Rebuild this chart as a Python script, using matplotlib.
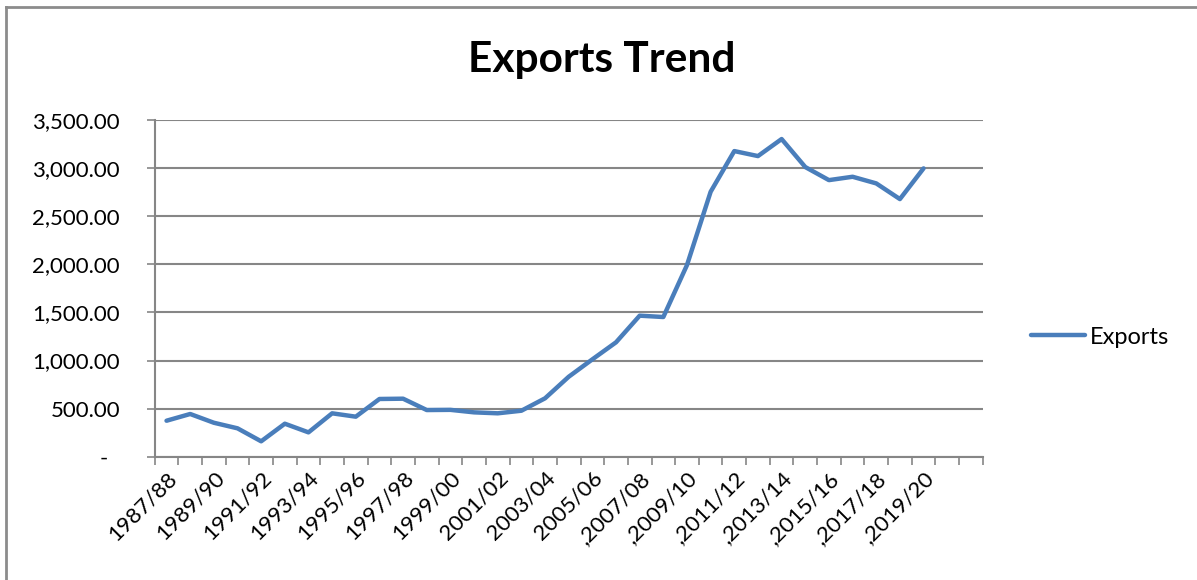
import matplotlib
matplotlib.use("Agg")
import matplotlib.pyplot as plt
import matplotlib.transforms as mtransforms
from matplotlib.lines import Line2D
from matplotlib.ticker import FixedLocator, FuncFormatter

plt.rcParams['font.family'] = ['Lato', 'DejaVu Sans']

# Fiscal years; the last two slots of the category axis are left empty
years = ["1987/88", "1988/89", "1989/90", "1990/91", "1991/92", "1992/93",
         "1993/94", "1994/95", "1995/96", "1996/97", "1997/98", "1998/99",
         "1999/00", "2000/01", "2001/02", "2002/03", "2003/04", "2004/05",
         "2005/06", "2006/07", ",2007/08", ",2008/09", ",2009/10", ",2010/11",
         ",2011/12", ",2012/13", ",2013/14", ",2014/15", ",2015/16",
         ",2016/17", ",2017/18", ",2018/19", ",2019/20", "", ""]

exports = [374, 444, 353, 295, 160, 343, 253, 451, 416, 600, 603, 485, 487,
           461, 451, 478, 607, 831, 1012, 1189, 1466, 1452, 1992, 2754,
           3177, 3125, 3302, 3011, 2875, 2910, 2841, 2678, 2997]

y_ticks = [0, 500, 1000, 1500, 2000, 2500, 3000, 3500]

line_color = "#4a7ebb"
axis_color = "#868686"
label_size = 16

W, H = 1197, 580
fig = plt.figure(figsize=(W / 100, H / 100), dpi=100)
ax = fig.add_axes([154.7 / W, 1 - 456.7 / H, (982.7 - 154.7) / W, (456.7 - 120) / H])

x = list(range(len(exports)))
ax.plot(x, exports, color=line_color, lw=3.2, solid_joinstyle="round",
        solid_capstyle="round", zorder=3)

n = len(years)
ax.set_xlim(-0.5, n - 0.5)
ax.set_ylim(y_ticks[0], y_ticks[-1])

# y axis: accounting-style number labels, gridlines at each major tick
ax.yaxis.set_major_locator(FixedLocator(y_ticks))
ax.yaxis.set_major_formatter(FuncFormatter(
    lambda v, p: "-  " if v == 0 else f"{v:,.2f}"))
ax.grid(axis="y", color=axis_color, lw=1.5, zorder=1)

# x axis: tick marks between categories, labels on every other category
ax.xaxis.set_major_locator(FixedLocator([i - 0.5 for i in range(n + 1)]))
ax.xaxis.set_major_formatter(FuncFormatter(lambda v, p: ""))
ax.xaxis.set_minor_locator(FixedLocator(list(range(0, n, 2))))
ax.set_xticklabels([years[i] for i in range(0, n, 2)], minor=True)
shift = mtransforms.ScaledTranslation(6 / 100, 0, fig.dpi_scale_trans)
for lab in ax.get_xticklabels(minor=True):
    lab.set_rotation(45)
    lab.set_ha("right")
    lab.set_va("top")
    lab.set_rotation_mode("anchor")
    lab.set_transform(lab.get_transform() + shift)

ax.tick_params(axis="x", which="major", length=6, width=1.2, color=axis_color,
               direction="out")
ax.tick_params(axis="x", which="minor", length=0, pad=8, labelsize=label_size)
ax.tick_params(axis="y", which="major", length=6, width=1.2, color=axis_color,
               direction="out", pad=19, labelsize=label_size)

for side in ("top", "right"):
    ax.spines[side].set_visible(False)
for side in ("left", "bottom"):
    ax.spines[side].set_color(axis_color)
    ax.spines[side].set_linewidth(1.5)

fig.text(0.503, 1 - 60 / H, "Exports Trend", ha="center", va="center",
         fontsize=30.5, fontweight="bold")

fig.legend(handles=[Line2D([0], [0], color=line_color, lw=3.2,
                           solid_capstyle="round")],
           labels=["Exports"], loc="center left",
           bbox_to_anchor=(1031 / W, 1 - 337 / H), frameon=False,
           borderaxespad=0, borderpad=0,
           fontsize=17, handlelength=2.3, handletextpad=0.2)

# chart frame
fig.add_artist(Line2D([6 / W, 6 / W], [0, 1 - 7 / H], transform=fig.transFigure,
                      color="#8c8c8c", lw=2))
fig.add_artist(Line2D([6 / W, 1], [1 - 7 / H, 1 - 7 / H], transform=fig.transFigure,
                      color="#8c8c8c", lw=2))

fig.savefig("out.png", dpi=100, facecolor="white")
